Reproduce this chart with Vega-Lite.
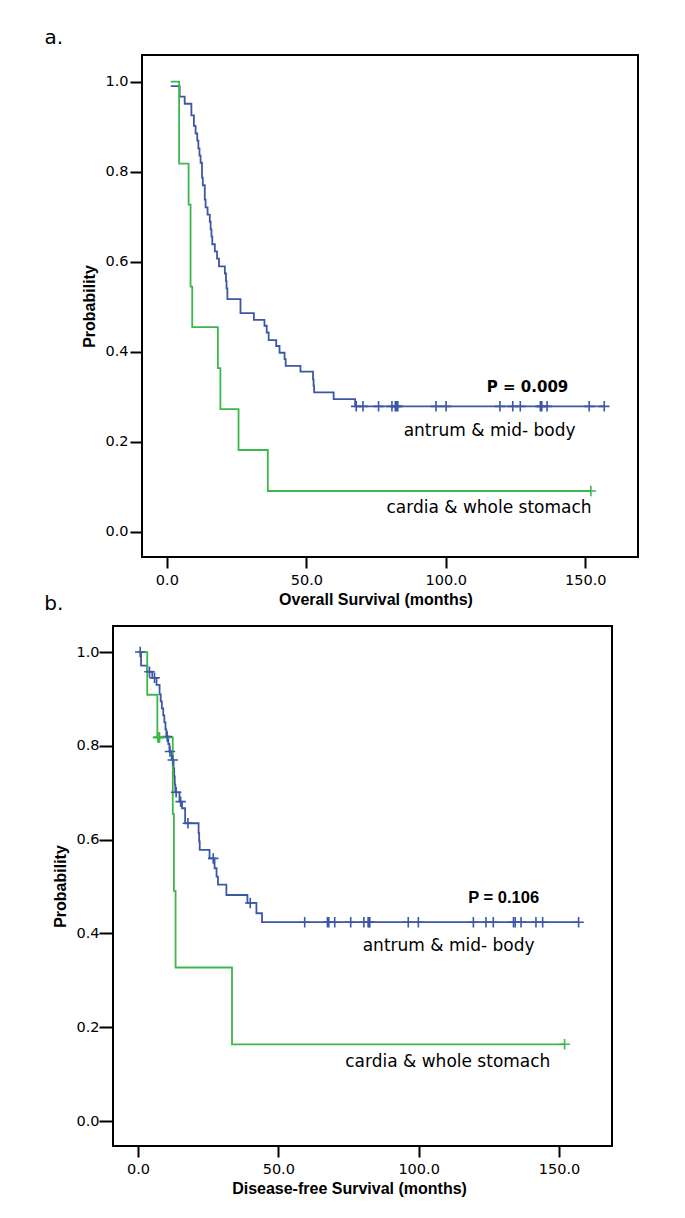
{
  "$schema": "https://vega.github.io/schema/vega-lite/v6.json",
  "background": "white",
  "padding": {"left": 43, "top": 27, "right": 0, "bottom": 0},
  "autosize": {"type": "pad"},
  "datasets": {
    "km": [
      {"p":"a","g":"antrum","t":1.4,"s":0.99,"c":0},
      {"p":"a","g":"antrum","t":4.6,"s":0.967,"c":0},
      {"p":"a","g":"antrum","t":6.4,"s":0.951,"c":0},
      {"p":"a","g":"antrum","t":8.8,"s":0.925,"c":0},
      {"p":"a","g":"antrum","t":9.7,"s":0.902,"c":0},
      {"p":"a","g":"antrum","t":10.3,"s":0.885,"c":0},
      {"p":"a","g":"antrum","t":10.9,"s":0.869,"c":0},
      {"p":"a","g":"antrum","t":11.3,"s":0.852,"c":0},
      {"p":"a","g":"antrum","t":11.7,"s":0.836,"c":0},
      {"p":"a","g":"antrum","t":12.1,"s":0.82,"c":0},
      {"p":"a","g":"antrum","t":12.6,"s":0.787,"c":0},
      {"p":"a","g":"antrum","t":12.9,"s":0.77,"c":0},
      {"p":"a","g":"antrum","t":13.6,"s":0.738,"c":0},
      {"p":"a","g":"antrum","t":13.9,"s":0.721,"c":0},
      {"p":"a","g":"antrum","t":14.6,"s":0.705,"c":0},
      {"p":"a","g":"antrum","t":15.4,"s":0.689,"c":0},
      {"p":"a","g":"antrum","t":15.7,"s":0.672,"c":0},
      {"p":"a","g":"antrum","t":16.0,"s":0.656,"c":0},
      {"p":"a","g":"antrum","t":16.3,"s":0.639,"c":0},
      {"p":"a","g":"antrum","t":17.2,"s":0.623,"c":0},
      {"p":"a","g":"antrum","t":18.0,"s":0.607,"c":0},
      {"p":"a","g":"antrum","t":18.7,"s":0.59,"c":0},
      {"p":"a","g":"antrum","t":20.8,"s":0.574,"c":0},
      {"p":"a","g":"antrum","t":21.2,"s":0.557,"c":0},
      {"p":"a","g":"antrum","t":21.4,"s":0.541,"c":0},
      {"p":"a","g":"antrum","t":21.7,"s":0.517,"c":0},
      {"p":"a","g":"antrum","t":26.4,"s":0.486,"c":0},
      {"p":"a","g":"antrum","t":31.2,"s":0.471,"c":0},
      {"p":"a","g":"antrum","t":35.0,"s":0.458,"c":0},
      {"p":"a","g":"antrum","t":35.8,"s":0.443,"c":0},
      {"p":"a","g":"antrum","t":36.5,"s":0.426,"c":0},
      {"p":"a","g":"antrum","t":39.2,"s":0.413,"c":0},
      {"p":"a","g":"antrum","t":40.4,"s":0.398,"c":0},
      {"p":"a","g":"antrum","t":42.2,"s":0.384,"c":0},
      {"p":"a","g":"antrum","t":42.6,"s":0.369,"c":0},
      {"p":"a","g":"antrum","t":47.9,"s":0.356,"c":0},
      {"p":"a","g":"antrum","t":52.4,"s":0.339,"c":0},
      {"p":"a","g":"antrum","t":52.6,"s":0.325,"c":0},
      {"p":"a","g":"antrum","t":52.8,"s":0.31,"c":0},
      {"p":"a","g":"antrum","t":59.8,"s":0.295,"c":0},
      {"p":"a","g":"antrum","t":67.5,"s":0.279,"c":0},
      {"p":"a","g":"antrum","t":67.9,"s":0.279,"c":1},
      {"p":"a","g":"antrum","t":70.3,"s":0.279,"c":1},
      {"p":"a","g":"antrum","t":75.9,"s":0.279,"c":1},
      {"p":"a","g":"antrum","t":80.7,"s":0.279,"c":1},
      {"p":"a","g":"antrum","t":81.9,"s":0.279,"c":1},
      {"p":"a","g":"antrum","t":82.3,"s":0.279,"c":1},
      {"p":"a","g":"antrum","t":82.8,"s":0.279,"c":1},
      {"p":"a","g":"antrum","t":96.5,"s":0.279,"c":1},
      {"p":"a","g":"antrum","t":100.1,"s":0.279,"c":1},
      {"p":"a","g":"antrum","t":119.4,"s":0.279,"c":1},
      {"p":"a","g":"antrum","t":124.0,"s":0.279,"c":1},
      {"p":"a","g":"antrum","t":126.7,"s":0.279,"c":1},
      {"p":"a","g":"antrum","t":133.9,"s":0.279,"c":1},
      {"p":"a","g":"antrum","t":134.4,"s":0.279,"c":1},
      {"p":"a","g":"antrum","t":136.3,"s":0.279,"c":1},
      {"p":"a","g":"antrum","t":151.4,"s":0.279,"c":1},
      {"p":"a","g":"antrum","t":156.8,"s":0.279,"c":1},
      {"p":"a","g":"cardia","t":1.4,"s":1.0,"c":0},
      {"p":"a","g":"cardia","t":4.4,"s":0.818,"c":0},
      {"p":"a","g":"cardia","t":7.8,"s":0.727,"c":0},
      {"p":"a","g":"cardia","t":8.5,"s":0.545,"c":0},
      {"p":"a","g":"cardia","t":9.1,"s":0.455,"c":0},
      {"p":"a","g":"cardia","t":18.3,"s":0.364,"c":0},
      {"p":"a","g":"cardia","t":19.2,"s":0.273,"c":0},
      {"p":"a","g":"cardia","t":25.7,"s":0.182,"c":0},
      {"p":"a","g":"cardia","t":36.2,"s":0.091,"c":0},
      {"p":"a","g":"cardia","t":152.0,"s":0.091,"c":1},
      {"p":"b","g":"antrum","t":0,"s":1.0,"c":0},
      {"p":"b","g":"antrum","t":0.8,"s":1.0,"c":1},
      {"p":"b","g":"antrum","t":1.1,"s":0.971,"c":0},
      {"p":"b","g":"antrum","t":3.3,"s":0.958,"c":0},
      {"p":"b","g":"antrum","t":4.1,"s":0.958,"c":1},
      {"p":"b","g":"antrum","t":5.1,"s":0.945,"c":0},
      {"p":"b","g":"antrum","t":5.9,"s":0.945,"c":1},
      {"p":"b","g":"antrum","t":6.6,"s":0.93,"c":0},
      {"p":"b","g":"antrum","t":7.7,"s":0.91,"c":0},
      {"p":"b","g":"antrum","t":8.1,"s":0.895,"c":0},
      {"p":"b","g":"antrum","t":8.5,"s":0.88,"c":0},
      {"p":"b","g":"antrum","t":9.0,"s":0.865,"c":0},
      {"p":"b","g":"antrum","t":9.4,"s":0.85,"c":0},
      {"p":"b","g":"antrum","t":9.8,"s":0.835,"c":0},
      {"p":"b","g":"antrum","t":10.1,"s":0.82,"c":0},
      {"p":"b","g":"antrum","t":10.4,"s":0.82,"c":1},
      {"p":"b","g":"antrum","t":10.8,"s":0.804,"c":0},
      {"p":"b","g":"antrum","t":11.2,"s":0.788,"c":0},
      {"p":"b","g":"antrum","t":11.4,"s":0.788,"c":1},
      {"p":"b","g":"antrum","t":12.0,"s":0.77,"c":0},
      {"p":"b","g":"antrum","t":12.4,"s":0.77,"c":1},
      {"p":"b","g":"antrum","t":12.7,"s":0.752,"c":0},
      {"p":"b","g":"antrum","t":12.9,"s":0.735,"c":0},
      {"p":"b","g":"antrum","t":13.1,"s":0.718,"c":0},
      {"p":"b","g":"antrum","t":13.3,"s":0.701,"c":0},
      {"p":"b","g":"antrum","t":13.6,"s":0.701,"c":1},
      {"p":"b","g":"antrum","t":14.8,"s":0.681,"c":0},
      {"p":"b","g":"antrum","t":15.2,"s":0.681,"c":1},
      {"p":"b","g":"antrum","t":15.7,"s":0.667,"c":0},
      {"p":"b","g":"antrum","t":16.8,"s":0.635,"c":0},
      {"p":"b","g":"antrum","t":17.8,"s":0.635,"c":1},
      {"p":"b","g":"antrum","t":21.6,"s":0.614,"c":0},
      {"p":"b","g":"antrum","t":21.8,"s":0.596,"c":0},
      {"p":"b","g":"antrum","t":22.0,"s":0.578,"c":0},
      {"p":"b","g":"antrum","t":25.5,"s":0.56,"c":0},
      {"p":"b","g":"antrum","t":26.8,"s":0.56,"c":1},
      {"p":"b","g":"antrum","t":27.3,"s":0.539,"c":0},
      {"p":"b","g":"antrum","t":28.0,"s":0.521,"c":0},
      {"p":"b","g":"antrum","t":28.5,"s":0.504,"c":0},
      {"p":"b","g":"antrum","t":31.5,"s":0.482,"c":0},
      {"p":"b","g":"antrum","t":39.0,"s":0.465,"c":0},
      {"p":"b","g":"antrum","t":40.0,"s":0.465,"c":1},
      {"p":"b","g":"antrum","t":42.2,"s":0.443,"c":0},
      {"p":"b","g":"antrum","t":44.2,"s":0.424,"c":0},
      {"p":"b","g":"antrum","t":59.4,"s":0.424,"c":1},
      {"p":"b","g":"antrum","t":67.5,"s":0.424,"c":1},
      {"p":"b","g":"antrum","t":68.0,"s":0.424,"c":1},
      {"p":"b","g":"antrum","t":70.1,"s":0.424,"c":1},
      {"p":"b","g":"antrum","t":75.8,"s":0.424,"c":1},
      {"p":"b","g":"antrum","t":80.5,"s":0.424,"c":1},
      {"p":"b","g":"antrum","t":82.0,"s":0.424,"c":1},
      {"p":"b","g":"antrum","t":82.3,"s":0.424,"c":1},
      {"p":"b","g":"antrum","t":82.6,"s":0.424,"c":1},
      {"p":"b","g":"antrum","t":96.3,"s":0.424,"c":1},
      {"p":"b","g":"antrum","t":99.9,"s":0.424,"c":1},
      {"p":"b","g":"antrum","t":119.5,"s":0.424,"c":1},
      {"p":"b","g":"antrum","t":124.0,"s":0.424,"c":1},
      {"p":"b","g":"antrum","t":126.6,"s":0.424,"c":1},
      {"p":"b","g":"antrum","t":133.8,"s":0.424,"c":1},
      {"p":"b","g":"antrum","t":134.4,"s":0.424,"c":1},
      {"p":"b","g":"antrum","t":136.5,"s":0.424,"c":1},
      {"p":"b","g":"antrum","t":141.8,"s":0.424,"c":1},
      {"p":"b","g":"antrum","t":144.2,"s":0.424,"c":1},
      {"p":"b","g":"antrum","t":157.0,"s":0.424,"c":1},
      {"p":"b","g":"cardia","t":0,"s":1.0,"c":0},
      {"p":"b","g":"cardia","t":3.3,"s":0.909,"c":0},
      {"p":"b","g":"cardia","t":6.9,"s":0.818,"c":0},
      {"p":"b","g":"cardia","t":7.1,"s":0.818,"c":1},
      {"p":"b","g":"cardia","t":7.4,"s":0.818,"c":1},
      {"p":"b","g":"cardia","t":7.7,"s":0.818,"c":1},
      {"p":"b","g":"cardia","t":12.4,"s":0.6545,"c":0},
      {"p":"b","g":"cardia","t":12.8,"s":0.4909,"c":0},
      {"p":"b","g":"cardia","t":13.4,"s":0.3273,"c":0},
      {"p":"b","g":"cardia","t":33.5,"s":0.1636,"c":0},
      {"p":"b","g":"cardia","t":152.0,"s":0.1636,"c":1}
    ]
  },
  "concat": [
    {
      "width": 525,
      "height": 502,
      "view": {"stroke": null},
      "data": {"name": "km"},
      "layer": [
        {
          "data": {"values": [{}]},
          "mark": {"type": "rect", "filled": false, "stroke": "black", "strokeWidth": 2},
          "encoding": {
            "x": {"datum": -8.9, "type": "quantitative", "scale": {"domain": [-19.3, 168.9], "nice": false, "zero": false}},
            "x2": {"datum": 168.9},
            "y": {"datum": -0.0556, "type": "quantitative", "scale": {"domain": [-0.0556, 1.0593], "nice": false, "zero": false}},
            "y2": {"datum": 1.0593}
          }
        },
        {
          "transform": [{"filter": "datum.p === 'a'"}],
          "mark": {"type": "line", "interpolate": "step-after", "strokeWidth": 1.8},
          "encoding": {
            "x": {"field": "t", "type": "quantitative",
              "axis": {"title": "Overall Survival (months)", "values": [0, 50, 100, 150], "format": ".1f"}},
            "y": {"field": "s", "type": "quantitative",
              "axis": {"title": "Probability", "values": [0, 0.2, 0.4, 0.6, 0.8, 1.0], "format": ".1f", "offset": -29}},
            "color": {"field": "g", "type": "nominal", "scale": {"domain": ["antrum", "cardia"], "range": ["#3D57A7", "#3DB64B"]}, "legend": null}
          }
        },
        {
          "transform": [{"filter": "datum.p === 'a' && datum.c === 1"}],
          "mark": {"type": "point", "shape": "M0,-1L0,1M-1,0L1,0", "filled": false, "size": 110, "strokeWidth": 1.6, "opacity": 1},
          "encoding": {
            "x": {"field": "t", "type": "quantitative"},
            "y": {"field": "s", "type": "quantitative"},
            "color": {"field": "g", "type": "nominal"}
          }
        },
        {
          "data": {"values": [{}]},
          "mark": {"type": "text", "text": "a.", "font": "DejaVu Sans", "fontSize": 20, "color": "black", "align": "left", "baseline": "middle", "clip": false},
          "encoding": {"x": {"datum": -43.9, "type": "quantitative"}, "y": {"datum": 1.0977, "type": "quantitative"}}
        },
        {
          "data": {"values": [{}]},
          "mark": {"type": "text", "text": "P = 0.009", "font": "DejaVu Sans", "fontWeight": "bold", "fontSize": 15, "color": "black", "align": "center", "baseline": "middle"},
          "encoding": {"x": {"datum": 129.3, "type": "quantitative"}, "y": {"datum": 0.322, "type": "quantitative"}}
        },
        {
          "data": {"values": [{}]},
          "mark": {"type": "text", "text": "antrum & mid- body", "font": "DejaVu Sans", "fontSize": 17, "color": "black", "align": "center", "baseline": "middle"},
          "encoding": {"x": {"datum": 115.7, "type": "quantitative"}, "y": {"datum": 0.224, "type": "quantitative"}}
        },
        {
          "data": {"values": [{}]},
          "mark": {"type": "text", "text": "cardia & whole stomach", "font": "DejaVu Sans", "fontSize": 17, "color": "black", "align": "center", "baseline": "middle"},
          "encoding": {"x": {"datum": 115.5, "type": "quantitative"}, "y": {"datum": 0.054, "type": "quantitative"}}
        }
      ]
    },
    {
      "width": 499,
      "height": 520,
      "data": {"name": "km"},
      "layer": [
        {
          "transform": [{"filter": "datum.p === 'b'"}],
          "mark": {"type": "line", "interpolate": "step-after", "strokeWidth": 1.8},
          "encoding": {
            "x": {"field": "t", "type": "quantitative", "scale": {"domain": [-8.9, 168.9], "nice": false, "zero": false},
              "axis": {"title": "Disease-free Survival (months)", "values": [0, 50, 100, 150], "format": ".1f", "titleX": 236}},
            "y": {"field": "s", "type": "quantitative", "scale": {"domain": [-0.0533, 1.0556], "nice": false, "zero": false},
              "axis": {"title": "Probability", "values": [0, 0.2, 0.4, 0.6, 0.8, 1.0], "format": ".1f", "tickSize": 14, "labelPadding": 0}},
            "color": {"field": "g", "type": "nominal", "scale": {"domain": ["antrum", "cardia"], "range": ["#3D57A7", "#3DB64B"]}, "legend": null}
          }
        },
        {
          "transform": [{"filter": "datum.p === 'b' && datum.c === 1"}],
          "mark": {"type": "point", "shape": "M0,-1L0,1M-1,0L1,0", "filled": false, "size": 110, "strokeWidth": 1.6, "opacity": 1},
          "encoding": {
            "x": {"field": "t", "type": "quantitative"},
            "y": {"field": "s", "type": "quantitative"},
            "color": {"field": "g", "type": "nominal"}
          }
        },
        {
          "data": {"values": [{}]},
          "mark": {"type": "text", "text": "b.", "font": "DejaVu Sans", "fontSize": 20, "color": "black", "align": "left", "baseline": "middle", "clip": false},
          "encoding": {"x": {"datum": -33.4, "type": "quantitative"}, "y": {"datum": 1.1031, "type": "quantitative"}}
        },
        {
          "data": {"values": [{}]},
          "mark": {"type": "text", "text": "P = 0.106", "font": "Liberation Sans", "fontWeight": "bold", "fontSize": 16.5, "color": "black", "align": "center", "baseline": "middle"},
          "encoding": {"x": {"datum": 130.3, "type": "quantitative"}, "y": {"datum": 0.475, "type": "quantitative"}}
        },
        {
          "data": {"values": [{}]},
          "mark": {"type": "text", "text": "antrum & mid- body", "font": "DejaVu Sans", "fontSize": 17, "color": "black", "align": "center", "baseline": "middle"},
          "encoding": {"x": {"datum": 110.7, "type": "quantitative"}, "y": {"datum": 0.374, "type": "quantitative"}}
        },
        {
          "data": {"values": [{}]},
          "mark": {"type": "text", "text": "cardia & whole stomach", "font": "DejaVu Sans", "fontSize": 17, "color": "black", "align": "center", "baseline": "middle"},
          "encoding": {"x": {"datum": 110.4, "type": "quantitative"}, "y": {"datum": 0.126, "type": "quantitative"}}
        }
      ]
    }
  ],
  "columns": 1,
  "align": "none",
  "bounds": "full",
  "spacing": -16,
  "config": {
    "view": {"stroke": "black", "strokeWidth": 2, "fill": "white"},
    "axis": {
      "domain": false,
      "grid": false,
      "ticks": true,
      "tickColor": "black",
      "tickWidth": 2,
      "labelFont": "DejaVu Sans",
      "labelFontSize": 14.5,
      "labelColor": "black",
      "titleFont": "Liberation Sans",
      "titleFontSize": 16,
      "titleFontWeight": "bold",
      "titleColor": "black"
    },
    "axisY": {"tickSize": 12, "labelPadding": 2, "titlePadding": 7},
    "axisX": {"tickSize": 11, "labelPadding": 5, "titlePadding": 5}
  }
}
